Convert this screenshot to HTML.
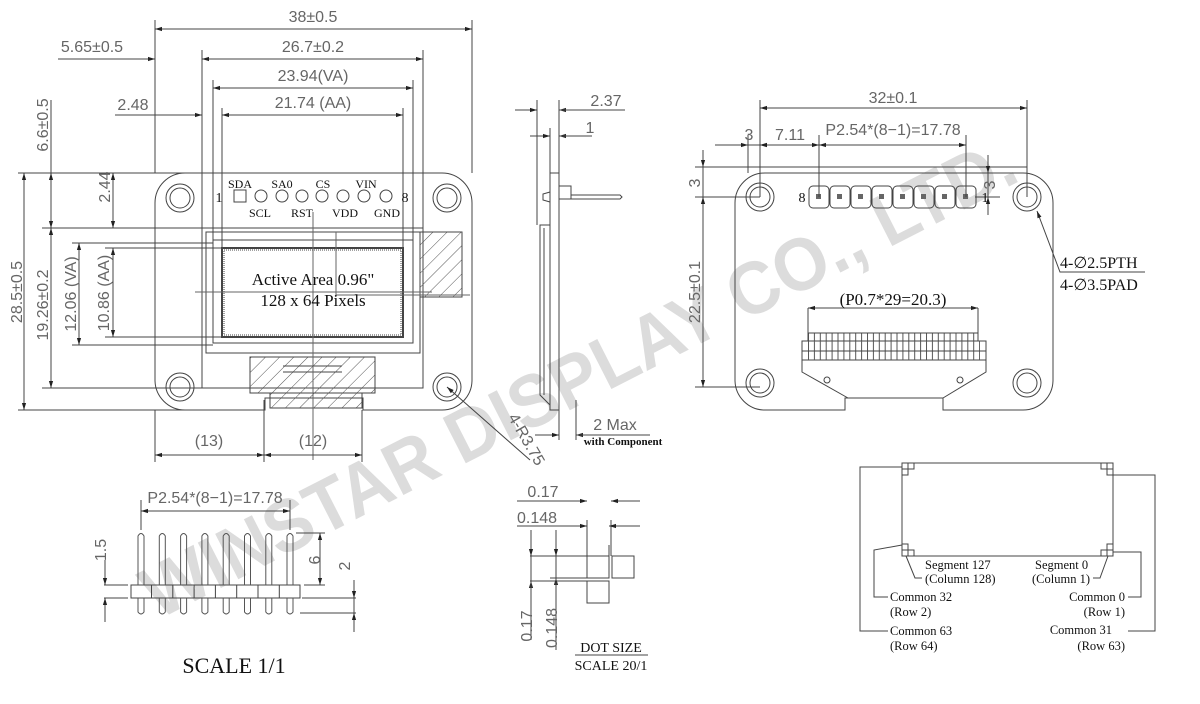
<!DOCTYPE html>
<html><head><meta charset="utf-8"><style>
html,body{margin:0;padding:0;background:#fff}
svg{display:block}
.d{font-family:"Liberation Sans",sans-serif;font-size:16px;fill:#666;font-weight:300}
.s{font-family:"Liberation Serif",serif;fill:#111}
</style></head><body>
<svg width="1200" height="704" viewBox="0 0 1200 704" xmlns="http://www.w3.org/2000/svg">
<defs>
<marker id="a" viewBox="0 0 10 10" refX="10" refY="5" markerWidth="9" markerHeight="7" orient="auto-start-reverse"><path d="M0,2 L10,5 L0,8 z" fill="#222"/></marker>
<pattern id="h" width="10" height="10" patternUnits="userSpaceOnUse" patternTransform="rotate(45)"><line x1="0" y1="0" x2="0" y2="10" stroke="#555" stroke-width="1"/></pattern>
<pattern id="t" width="5.9" height="10" patternUnits="userSpaceOnUse" x="808"><line x1="0.5" y1="0" x2="0.5" y2="10" stroke="#555" stroke-width="1"/></pattern>
</defs>
<text x="590" y="400" transform="rotate(-27 590 400)" text-anchor="middle" font-family="Liberation Sans,sans-serif" font-weight="bold" font-size="74" fill="#dcdcdc" textLength="970" lengthAdjust="spacingAndGlyphs">WINSTAR DISPLAY CO., LTD.</text>

<g fill="none" stroke="#444" stroke-width="1">
<path d="M185,173 H442 A30,30 0 0 1 472,203 V380 A30,30 0 0 1 442,410 H363 V398 H265 V410 H185 A30,30 0 0 1 155,380 V203 A30,30 0 0 1 185,173 Z"/>
<circle cx="180" cy="198" r="14"/><circle cx="180" cy="198" r="10"/>
<circle cx="447" cy="198" r="14"/><circle cx="447" cy="198" r="10"/>
<circle cx="180" cy="387" r="14"/><circle cx="180" cy="387" r="10"/>
<circle cx="447" cy="387" r="14"/><circle cx="447" cy="387" r="10"/>
<rect x="202" y="228" width="221" height="160"/>
<rect x="206" y="232" width="214" height="121"/>
<rect x="213" y="240" width="200" height="103"/>
<rect x="222" y="248" width="181" height="89" stroke-width="2"/>
<rect x="224" y="250" width="177" height="85" stroke-dasharray="1 1"/>
<rect x="420" y="232" width="42" height="65" fill="url(#h)"/>
<rect x="250" y="357" width="125" height="36" fill="url(#h)"/>
<rect x="270" y="393" width="92" height="15" fill="url(#h)"/>
<path d="M283,366 H342 M283,372 H342" />
<rect x="234" y="190" width="12" height="12"/>
<circle cx="261" cy="196" r="6"/><circle cx="282" cy="196" r="6"/><circle cx="302" cy="196" r="6"/><circle cx="322" cy="196" r="6"/><circle cx="343" cy="196" r="6"/><circle cx="364" cy="196" r="6"/><circle cx="386" cy="196" r="6"/>
<path d="M313,212 V460 M195,292 H432 M336,232 V295 H470" stroke="#666"/>
<path d="M155,20 V173 M472,20 V173 M202,50 V228 M423,50 V228 M213,80 V240 M413,80 V240 M222,108 V248 M403,108 V248"/>
<path d="M155,29 H472" marker-start="url(#a)" marker-end="url(#a)"/>
<path d="M202,59 H423" marker-start="url(#a)" marker-end="url(#a)"/>
<path d="M58,59 H155" marker-end="url(#a)"/>
<path d="M213,88 H413" marker-start="url(#a)" marker-end="url(#a)"/>
<path d="M222,115 H403" marker-start="url(#a)" marker-end="url(#a)"/>
<path d="M115,115 H202" marker-end="url(#a)"/>
<path d="M18,173 H202 M18,410 H265 M42,228 H202 M42,388 H202 M72,243 H213 M72,345 H213 M105,248 H222 M105,337 H222"/>
<path d="M24,173 V410" marker-start="url(#a)" marker-end="url(#a)"/>
<path d="M51,100 V173" /><path d="M51,173 V228" marker-start="url(#a)" marker-end="url(#a)"/>
<path d="M51,228 V388" marker-start="url(#a)" marker-end="url(#a)"/>
<path d="M79,243 V345" marker-start="url(#a)" marker-end="url(#a)"/>
<path d="M113,173 V228" marker-start="url(#a)" marker-end="url(#a)"/>
<path d="M113,248 V337" marker-start="url(#a)" marker-end="url(#a)"/>
<path d="M155,410 V462 M264,400 V462 M362,410 V462"/>
<path d="M155,455 H264" marker-start="url(#a)" marker-end="url(#a)"/>
<path d="M264,455 H362" marker-start="url(#a)" marker-end="url(#a)"/>
<path d="M530,460 L447,387" marker-end="url(#a)"/>

<rect x="550" y="173" width="9" height="237"/>
<path d="M550,225 H540 V395 L550,405 M544,228 V395"/>
<path d="M550,192 L543,194 V200 L550,202"/>
<rect x="559" y="186" width="12" height="13"/>
<path d="M571,195 H620 L622,197 L620,199 H571"/>
<path d="M537,100 V225 M559,100 V173 M550,128 V173 M559,440 V410 M576,440 V400"/>
<path d="M515,110 H537" marker-end="url(#a)"/><path d="M580,110 H559" marker-end="url(#a)"/><path d="M559,110 H625"/>
<path d="M530,136 H550" marker-end="url(#a)"/><path d="M580,136 H559" marker-end="url(#a)"/><path d="M559,136 H592"/>
<path d="M535,435 H559" marker-end="url(#a)"/><path d="M600,435 H576" marker-end="url(#a)"/><path d="M576,435 H650"/>

<path d="M765,173 H1023 A30,30 0 0 1 1053,203 V380 A30,30 0 0 1 1023,410 H943 V398 H845 V410 H765 A30,30 0 0 1 735,380 V203 A30,30 0 0 1 765,173 Z"/>
<circle cx="760" cy="197" r="14"/><circle cx="760" cy="197" r="10"/>
<circle cx="1027" cy="197" r="14"/><circle cx="1027" cy="197" r="10"/>
<circle cx="760" cy="383" r="14"/><circle cx="760" cy="383" r="10"/>
<circle cx="1027" cy="383" r="14"/><circle cx="1027" cy="383" r="10"/>
<rect x="809" y="186" width="20" height="22" rx="4"/><rect x="830" y="186" width="20" height="22" rx="4"/><rect x="851" y="186" width="20" height="22" rx="4"/><rect x="872" y="186" width="20" height="22" rx="4"/><rect x="893" y="186" width="20" height="22" rx="4"/><rect x="914" y="186" width="20" height="22" rx="4"/><rect x="935" y="186" width="20" height="22" rx="4"/><rect x="956" y="186" width="20" height="22" rx="4"/>
<g fill="#666" stroke="none">
<rect x="816" y="194" width="5" height="5"/><rect x="837" y="194" width="5" height="5"/><rect x="858" y="194" width="5" height="5"/><rect x="879" y="194" width="5" height="5"/><rect x="900" y="194" width="5" height="5"/><rect x="921" y="194" width="5" height="5"/><rect x="942" y="194" width="5" height="5"/><rect x="963" y="194" width="5" height="5"/>
</g>
<rect x="808" y="333" width="170" height="27" fill="url(#t)"/>
<rect x="802" y="341" width="184" height="19" fill="#fff"/>
<rect x="808" y="341" width="172" height="19" fill="url(#t)" stroke="none"/>
<path d="M802,351 H986"/>
<path d="M802,360 V372 L848,398 M986,360 V372 L943,398 M855,398 H940" />
<circle cx="827" cy="380" r="3"/><circle cx="960" cy="380" r="3"/>
<path d="M760,100 V197 M1027,100 V197 M819,135 V197 M966,135 V197 M748,135 V173"/>
<path d="M760,108 H1027" marker-start="url(#a)" marker-end="url(#a)"/>
<path d="M715,145 H748" marker-end="url(#a)"/>
<path d="M748,145 H760" /><path d="M790,145 H760" marker-end="url(#a)"/>
<path d="M760,145 H819" marker-start="url(#a)" marker-end="url(#a)"/>
<path d="M819,145 H966" marker-start="url(#a)" marker-end="url(#a)"/>
<path d="M695,167 H1027 M695,197 H760 M695,387 H760 M975,197 H1000"/>
<path d="M703,150 V167" marker-end="url(#a)"/>
<path d="M703,197 V387" marker-start="url(#a)" marker-end="url(#a)"/>
<path d="M703,167 V197"/>
<path d="M988,155 V173" marker-end="url(#a)"/><path d="M988,215 V197" marker-end="url(#a)"/><path d="M988,173 V197"/>
<path d="M808,308 H978" marker-start="url(#a)" marker-end="url(#a)"/>
<path d="M808,308 V333 M978,308 V333"/>
<path d="M1145,272 H1060 L1037,211" marker-end="url(#a)"/>

<path d="M141,500 V530 M290,500 V530"/>
<path d="M141,511 H290" marker-start="url(#a)" marker-end="url(#a)"/>
<path d="M131,585 H300 V598 H131 Z"/>
<path d="M151.5,585 V598 M172.8,585 V598 M194.1,585 V598 M215.4,585 V598 M236.7,585 V598 M258,585 V598 M279.3,585 V598"/>
<g stroke="#555">
<path d="M138,585 V536 Q141,531 144,536 V585 M138,598 V612 Q141,616 144,612 V598"/>
<path d="M159.3,585 V536 Q162.3,531 165.3,536 V585 M159.3,598 V612 Q162.3,616 165.3,612 V598"/>
<path d="M180.6,585 V536 Q183.6,531 186.6,536 V585 M180.6,598 V612 Q183.6,616 186.6,612 V598"/>
<path d="M201.9,585 V536 Q204.9,531 207.9,536 V585 M201.9,598 V612 Q204.9,616 207.9,612 V598"/>
<path d="M223.2,585 V536 Q226.2,531 229.2,536 V585 M223.2,598 V612 Q226.2,616 229.2,612 V598"/>
<path d="M244.5,585 V536 Q247.5,531 250.5,536 V585 M244.5,598 V612 Q247.5,616 250.5,612 V598"/>
<path d="M265.8,585 V536 Q268.8,531 271.8,536 V585 M265.8,598 V612 Q268.8,616 271.8,612 V598"/>
<path d="M287,585 V536 Q290,531 293,536 V585 M287,598 V612 Q290,616 293,612 V598"/>
</g>
<path d="M104,585 H128 M104,598 H128 M300,613 H356 M302,598 H356 M296,533 H325 M304,585 H325"/>
<path d="M105,560 V585" marker-end="url(#a)"/><path d="M105,622 V598" marker-end="url(#a)"/>
<path d="M320,533 V585" marker-start="url(#a)" marker-end="url(#a)"/>
<path d="M354,580 V598" marker-end="url(#a)"/><path d="M354,632 V613" marker-end="url(#a)"/><path d="M354,598 V613"/>

<rect x="587" y="556" width="22" height="22"/><rect x="612" y="556" width="22" height="22"/><rect x="587" y="581" width="22" height="22"/>
<path d="M587,520 V556 M611,520 V556 M609,545 V556 M530,556 H587 M530,581 H587 M550,578 H587"/>
<path d="M517,501 H587" marker-end="url(#a)"/><path d="M640,501 H611" marker-end="url(#a)"/>
<path d="M517,526 H587" marker-end="url(#a)"/><path d="M640,526 H609" marker-end="url(#a)"/>
<path d="M531,530 V556" marker-end="url(#a)"/><path d="M531,600 V581" marker-end="url(#a)"/><path d="M531,556 V640"/>
<path d="M556,530 V556" marker-end="url(#a)"/><path d="M556,600 V578" marker-end="url(#a)"/><path d="M556,556 V650"/>
<path d="M575,655 H648"/>

<rect x="902" y="463" width="211" height="93"/>
<rect x="902" y="463" width="6" height="6"/><rect x="908" y="463" width="6" height="6"/><rect x="902" y="469" width="6" height="6"/>
<rect x="1107" y="463" width="6" height="6"/><rect x="1101" y="463" width="6" height="6"/><rect x="1107" y="469" width="6" height="6"/>
<rect x="902" y="550" width="6" height="6"/><rect x="908" y="550" width="6" height="6"/><rect x="902" y="544" width="6" height="6"/>
<rect x="1107" y="550" width="6" height="6"/><rect x="1101" y="550" width="6" height="6"/><rect x="1107" y="544" width="6" height="6"/>
<path d="M902,467 H860 V631 H888"/>
<path d="M1113,475 H1155 V631 H1128"/>
<path d="M902,545 L874,550 V597 H888"/>
<path d="M1113,552 H1141 V597 H1128"/>
<path d="M906,556 L915,578 H922"/>
<path d="M1108,556 L1100,578 H1093"/>
</g>

<g class="d">
<text x="313" y="22" text-anchor="middle">38±0.5</text>
<text x="313" y="52" text-anchor="middle">26.7±0.2</text>
<text x="92" y="52" text-anchor="middle">5.65±0.5</text>
<text x="313" y="81" text-anchor="middle">23.94(VA)</text>
<text x="313" y="108" text-anchor="middle">21.74 (AA)</text>
<text x="133" y="110" text-anchor="middle">2.48</text>
<text transform="translate(22,292) rotate(-90)" text-anchor="middle">28.5±0.5</text>
<text transform="translate(48,125) rotate(-90)" text-anchor="middle">6.6±0.5</text>
<text transform="translate(48,305) rotate(-90)" text-anchor="middle">19.26±0.2</text>
<text transform="translate(76,294) rotate(-90)" text-anchor="middle">12.06 (VA)</text>
<text transform="translate(109,293) rotate(-90)" text-anchor="middle">10.86 (AA)</text>
<text transform="translate(110,187) rotate(-90)" text-anchor="middle">2.44</text>
<text x="209" y="446" text-anchor="middle">(13)</text>
<text x="313" y="446" text-anchor="middle">(12)</text>
<text transform="translate(522,442) rotate(60)" text-anchor="middle">4-R3.75</text>
<text x="606" y="106" text-anchor="middle">2.37</text>
<text x="590" y="133" text-anchor="middle">1</text>
<text x="615" y="430" text-anchor="middle">2 Max</text>
<text x="893" y="103" text-anchor="middle">32±0.1</text>
<text x="749" y="140" text-anchor="middle">3</text>
<text x="790" y="140" text-anchor="middle">7.11</text>
<text x="893" y="135" text-anchor="middle">P2.54*(8−1)=17.78</text>
<text transform="translate(700,183) rotate(-90)" text-anchor="middle">3</text>
<text transform="translate(700,292) rotate(-90)" text-anchor="middle">22.5±0.1</text>
<text transform="translate(995,185) rotate(-90)" text-anchor="middle">3</text>
<text x="215" y="503" text-anchor="middle">P2.54*(8−1)=17.78</text>
<text transform="translate(106,550) rotate(-90)" text-anchor="middle">1.5</text>
<text transform="translate(320,560) rotate(-90)" text-anchor="middle">6</text>
<text transform="translate(350,566) rotate(-90)" text-anchor="middle">2</text>
<text x="543" y="497" text-anchor="middle">0.17</text>
<text x="537" y="523" text-anchor="middle">0.148</text>
<text transform="translate(532,626) rotate(-90)" text-anchor="middle">0.17</text>
<text transform="translate(557,628) rotate(-90)" text-anchor="middle">0.148</text>
</g>
<g class="s" font-size="12">
<text x="240" y="188" text-anchor="middle">SDA</text>
<text x="282" y="188" text-anchor="middle">SA0</text>
<text x="323" y="188" text-anchor="middle">CS</text>
<text x="366" y="188" text-anchor="middle">VIN</text>
<text x="260" y="217" text-anchor="middle">SCL</text>
<text x="302" y="217" text-anchor="middle">RST</text>
<text x="345" y="217" text-anchor="middle">VDD</text>
<text x="387" y="217" text-anchor="middle">GND</text>
<text x="219" y="202" text-anchor="middle" font-size="14">1</text>
<text x="405" y="202" text-anchor="middle" font-size="14">8</text>
<text x="802" y="202" text-anchor="middle" font-size="14">8</text>
<text x="985" y="202" text-anchor="middle" font-size="14">1</text>
<text x="313" y="285" text-anchor="middle" font-size="17">Active Area 0.96"</text>
<text x="313" y="306" text-anchor="middle" font-size="17">128 x 64 Pixels</text>
<text x="623" y="445" text-anchor="middle" font-size="11" font-weight="bold">with Component</text>
<text x="893" y="305" text-anchor="middle" font-size="17">(P0.7*29=20.3)</text>
<text x="1060" y="268" font-size="16">4-∅2.5PTH</text>
<text x="1060" y="290" font-size="16">4-∅3.5PAD</text>
<text x="234" y="673" text-anchor="middle" font-size="22">SCALE 1/1</text>
<text x="611" y="652" text-anchor="middle" font-size="14">DOT SIZE</text>
<text x="611" y="670" text-anchor="middle" font-size="14">SCALE 20/1</text>
<text x="925" y="569" font-size="12.5">Segment 127</text>
<text x="925" y="583" font-size="12.5">(Column 128)</text>
<text x="1035" y="569" font-size="12.5">Segment 0</text>
<text x="1032" y="583" font-size="12.5">(Column 1)</text>
<text x="890" y="601" font-size="12.5">Common 32</text>
<text x="890" y="616" font-size="12.5">(Row 2)</text>
<text x="890" y="635" font-size="12.5">Common 63</text>
<text x="890" y="650" font-size="12.5">(Row 64)</text>
<text x="1125" y="601" text-anchor="end" font-size="12.5">Common 0</text>
<text x="1125" y="616" text-anchor="end" font-size="12.5">(Row 1)</text>
<text x="1112" y="634" text-anchor="end" font-size="12.5">Common 31</text>
<text x="1125" y="650" text-anchor="end" font-size="12.5">(Row 63)</text>
</g>
</svg>
</body></html>
